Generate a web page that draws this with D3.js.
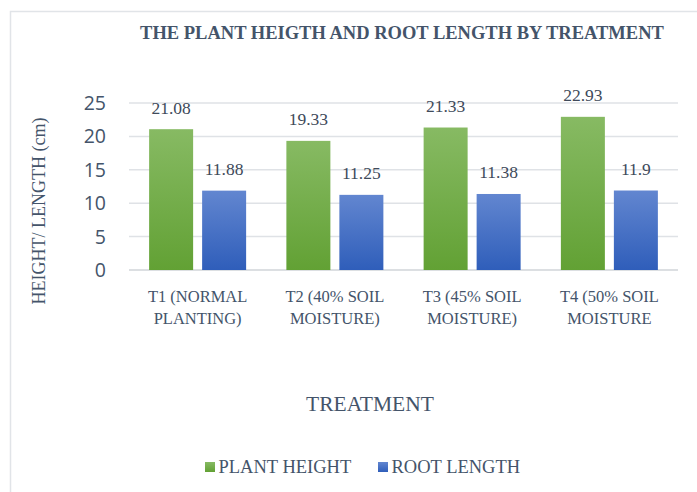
<!DOCTYPE html>
<html><head><meta charset="utf-8">
<script src="https://cdn.jsdelivr.net/npm/d3@7"></script>
<style>body{margin:0;background:#fff}</style>
</head><body>
<svg id="c" width="697" height="492"></svg>
<script>
const categories = [["T1 (NORMAL","PLANTING)"],["T2 (40% SOIL","MOISTURE)"],["T3 (45% SOIL","MOISTURE)"],["T4 (50% SOIL","MOISTURE"]];
const seriesNames = ["PLANT HEIGHT","ROOT LENGTH"];
const plantHeight = [21.08, 19.33, 21.33, 22.93];
const rootLength = [11.88, 11.25, 11.38, 11.9];
const labelsPH = ["21.08","19.33","21.33","22.93"];
const labelsRL = ["11.88","11.25","11.38","11.9"];
const yTicks = [0,5,10,15,20,25];

const svg = d3.select("#c");
const txt = "#44546a";
const serif = "'Liberation Serif','Times New Roman',serif";
const sans = "'Open Sans','Liberation Sans',sans-serif";

const defs = svg.append("defs");
function grad(id, c1, c2){
  const g = defs.append("linearGradient").attr("id",id).attr("x1",0).attr("y1",0).attr("x2",0).attr("y2",1);
  g.append("stop").attr("offset","0%").attr("stop-color",c1);
  g.append("stop").attr("offset","100%").attr("stop-color",c2);
}
grad("gG","#87ba63","#62a134");
grad("gB","#6286d0","#2f5eba");

// frame
svg.append("rect").attr("x",10.5).attr("y",11.5).attr("width",720).attr("height",520)
  .attr("fill","none").attr("stroke","#e1e4e8").attr("stroke-width",1.5);

const x0 = d3.scaleBand().domain(d3.range(4)).range([129,678]);
const y = d3.scaleLinear().domain([0,25]).range([270,103]);
const barW = 44, gap = 9;

// grid
svg.append("g").selectAll("line").data(yTicks).join("line")
  .attr("x1",129).attr("x2",678).attr("y1",d=>y(d)).attr("y2",d=>y(d))
  .attr("stroke",d=>d===0?"#d0d4d9":"#dfe2e6").attr("stroke-width",1.5);

// y tick labels
svg.append("g").selectAll("text").data(yTicks).join("text")
  .attr("x",106).attr("y",d=>y(d)).attr("dy","0.36em").attr("text-anchor","end")
  .attr("font-family",sans).attr("font-size",19.5).attr("fill",txt).text(d=>d);

const series = [
  {vals:plantHeight, labels:labelsPH, fill:"url(#gG)", off:-(barW+gap)/2},
  {vals:rootLength, labels:labelsRL, fill:"url(#gB)", off:(barW+gap)/2}
];
series.forEach(s=>{
  const g = svg.append("g");
  g.selectAll("rect").data(s.vals).join("rect")
    .attr("x",(d,i)=>x0(i)+x0.bandwidth()/2+s.off-barW/2)
    .attr("y",d=>y(d)).attr("width",barW).attr("height",d=>y(0)-y(d))
    .attr("fill",s.fill);
  g.selectAll("text").data(s.vals).join("text")
    .attr("x",(d,i)=>x0(i)+x0.bandwidth()/2+s.off)
    .attr("y",d=>y(d)-15.5).attr("text-anchor","middle")
    .attr("font-family",serif).attr("font-size",17.5).attr("fill","#404a5a")
    .text((d,i)=>s.labels[i]);
});

// category labels
const cg = svg.append("g");
categories.forEach((c,i)=>{
  const t = cg.append("text").attr("text-anchor","middle")
    .attr("font-family",serif).attr("font-size",16.5).attr("fill",txt);
  c.forEach((line,j)=>{
    t.append("tspan").attr("x",x0(i)+x0.bandwidth()/2).attr("y",302+j*22).text(line);
  });
});

// title
svg.append("text").attr("x",402).attr("y",39).attr("text-anchor","middle")
  .attr("font-family",serif).attr("font-weight","bold").attr("font-size",18.5).attr("fill",txt)
  .text("THE PLANT HEIGTH AND ROOT LENGTH BY TREATMENT");

// axis titles
svg.append("text").attr("transform","translate(45,211) rotate(-90)").attr("text-anchor","middle")
  .attr("font-family",serif).attr("font-size",18).attr("fill",txt).text("HEIGHT/ LENGTH (cm)");
svg.append("text").attr("x",370).attr("y",411).attr("text-anchor","middle")
  .attr("font-family",serif).attr("font-size",21.5).attr("fill",txt).text("TREATMENT");

// legend
const leg = [{n:seriesNames[0],f:"url(#gG)",x:205},{n:seriesNames[1],f:"url(#gB)",x:378}];
leg.forEach(l=>{
  svg.append("rect").attr("x",l.x).attr("y",462).attr("width",10).attr("height",10).attr("fill",l.f);
  svg.append("text").attr("x",l.x+13.5).attr("y",473).attr("font-family",serif).attr("font-size",18.5)
    .attr("fill",txt).text(l.n);
});
</script>
</body></html>
